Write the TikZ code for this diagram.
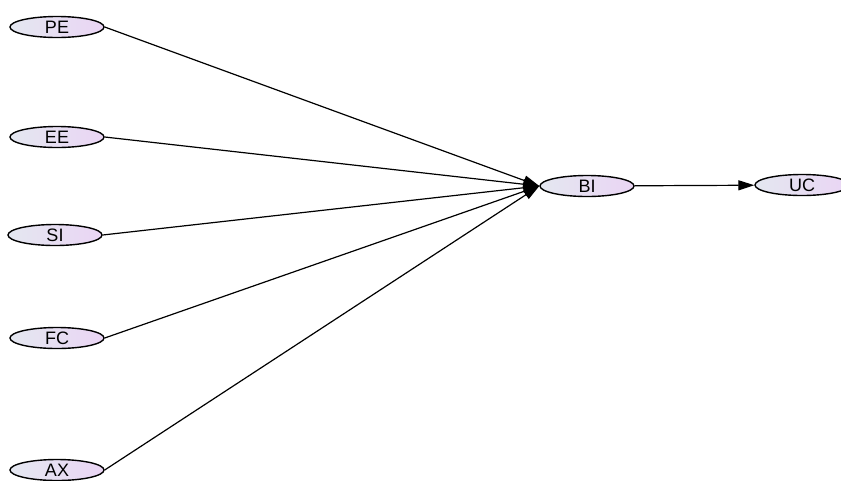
\documentclass[tikz,border=0pt]{standalone}
\usepackage{fontspec}
\setmainfont{Liberation Sans}
\definecolor{nodeLeft}{HTML}{E4E7F0}
\definecolor{nodeRight}{HTML}{EAD5F4}
\usetikzlibrary{shapes.geometric, arrows.meta}

\begin{document}
\begin{tikzpicture}[x=1pt, y=-1pt,
      construct/.style={ellipse, draw=black, line width=1.4pt, left color=nodeLeft, right color=nodeRight,
                  minimum width=94pt, minimum height=21pt, inner sep=0pt, font=\fontsize{18}{20}\selectfont},
      arr/.style={-{Triangle[length=16pt, width=10pt]}, line width=1.2pt, black}]
    \useasboundingbox (0,0) rectangle (841,480);
    \node[construct] (pe) at (57,27) {PE};
    \node[construct] (ee) at (57,137) {EE};
    \node[construct] (si) at (55,235) {SI};
    \node[construct] (fc) at (57,338) {FC};
    \node[construct] (ax) at (57,470) {AX};
    \node[construct] (bi) at (587,186) {BI};
    \node[construct] (uc) at (802,185) {UC};
    \foreach \src in {pe, ee, si, fc, ax}
      \draw[arr] (\src.east) -- (bi.west);
    \draw[arr] (bi) -- (uc);
  \end{tikzpicture}
\end{document}
